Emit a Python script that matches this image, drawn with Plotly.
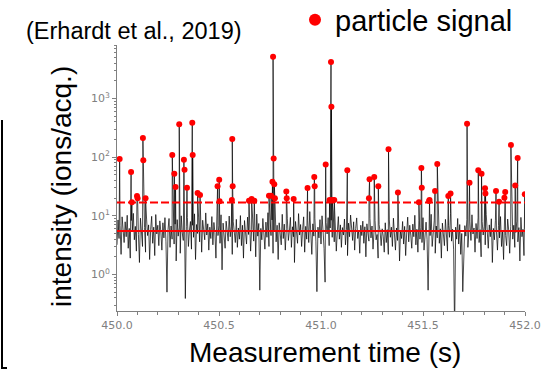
import numpy as np
import plotly.graph_objects as go

# ---------------- data ----------------
T0 = 450.0          # first sample time (s)
DT = 0.005          # sample spacing (s)

# background (non-particle) signal, ions/acq., one value per DT
background = [
    3.2, 8.5, 4.1, 6.8, 2.2, 9.6, 5.0, 3.5, 7.9, 4.4,
    10.2, 2.8, 6.1, 1.9, 8.3, 5.4, 11.0, 3.9, 6.6, 2.5,
    7.4, 4.8, 1.6, 9.1, 5.7, 3.0, 12.0, 6.3, 2.4, 8.8,
    4.6, 7.0, 1.8, 5.9, 9.8, 3.4, 6.4, 2.1, 10.5, 4.9,
    6.9, 3.1, 8.2, 5.3, 2.6, 7.6, 4.2, 9.3, 3.6, 0.5,
    5.8, 9.0, 2.9, 6.7, 4.0, 11.5, 3.3, 7.2, 1.7, 8.6,
    4.5, 6.2, 2.3, 10.0, 5.1, 3.8, 7.8, 0.39, 6.5, 9.4,
    3.0, 5.6, 8.0, 2.7, 6.9, 4.3, 10.8, 1.8, 7.1, 5.0,
    9.2, 3.6, 6.0, 2.4, 8.4, 5.5, 3.9, 11.2, 4.7, 7.3,
    2.6, 6.4, 4.1, 9.7, 3.2, 7.7, 5.2, 1.9, 8.9, 4.6,
    6.8, 3.4, 10.4, 1.2, 7.5, 4.9, 2.8, 8.1, 5.6, 3.7,
    9.9, 4.4, 6.6, 2.2, 7.9, 5.1, 3.5, 8.7, 2.9, 6.2,
    4.0, 10.1, 3.1, 6.9, 1.9, 8.3, 5.4, 3.3, 9.5, 4.8,
    7.0, 2.5, 5.9, 8.8, 3.7, 6.3, 2.0, 10.7, 4.5, 7.4,
    0.54, 6.1, 3.9, 9.0, 5.2, 2.7, 7.8, 4.3, 11.3, 3.0,
    6.7, 4.6, 8.5, 2.3, 5.7, 9.8, 3.6, 6.9, 1.8, 7.6,
    5.0, 3.2, 10.6, 4.1, 7.2, 2.6, 6.0, 8.9, 3.8, 5.5,
    9.4, 2.9, 6.5, 4.4, 1.6, 8.0, 5.3, 3.4, 10.9, 4.7,
    7.1, 3.0, 5.8, 9.6, 2.4, 6.6, 4.0, 8.2, 3.5, 11.8,
    5.1, 2.2, 7.3, 4.5, 9.1, 3.7, 0.51, 6.4, 4.2, 8.6,
    3.3, 10.0, 5.6, 2.8, 0.74, 7.7, 4.9, 9.3, 3.1, 6.2,
    8.4, 4.3, 11.6, 3.6, 6.8, 2.5, 5.4, 9.7, 4.0, 7.0,
    2.9, 6.3, 4.7, 8.8, 3.2, 5.9, 2.1, 7.5, 4.4, 10.3,
    5.3, 3.8, 7.9, 2.6, 6.1, 9.2, 4.1, 5.7, 2.3, 6.9,
    4.6, 8.1, 3.4, 6.5, 2.0, 7.3, 5.0, 3.7, 9.0, 4.2,
    6.7, 2.7, 5.5, 8.3, 3.9, 4.8, 1.9, 7.1, 5.2, 3.1,
    6.0, 4.5, 2.4, 7.6, 3.5, 5.8, 2.2, 8.5, 4.3, 6.4,
    3.0, 9.1, 4.9, 2.6, 6.2, 3.8, 7.4, 1.7, 5.6, 4.1,
    8.0, 3.3, 6.6, 2.1, 5.1, 9.5, 3.6, 6.9, 4.7, 2.8,
    7.2, 4.4, 10.2, 3.2, 5.9, 2.4, 8.4, 4.0, 6.3, 3.5,
    9.3, 2.6, 5.7, 7.8, 3.9, 0.54, 6.1, 4.6, 10.6, 3.0,
    5.4, 8.2, 2.3, 6.7, 4.2, 9.9, 3.4, 6.0, 1.9, 7.5,
    4.8, 3.1, 8.7, 5.5, 2.5, 6.9, 4.3, 11.0, 3.7, 5.9,
    2.7, 0.1, 6.4, 4.0, 9.0, 3.3, 7.1, 2.2, 5.0, 0.51,
    3.6, 6.8, 4.5, 8.6, 2.9, 5.6, 7.9, 3.8, 10.4, 4.9,
    6.2, 2.4, 7.4, 4.1, 9.2, 3.5, 5.8, 2.0, 8.0, 4.7,
    6.6, 3.2, 10.5, 5.1, 2.8, 7.0, 4.4, 8.9, 1.6, 6.1,
    3.9, 8.4, 5.3, 2.6, 6.8, 4.2, 9.7, 3.0, 5.5, 1.8,
    7.6, 4.6, 3.1, 8.8, 5.7, 2.3, 6.5, 11.2, 4.0, 6.9,
    2.9, 5.2, 8.1, 3.6, 6.3, 1.7, 9.4, 4.4, 5.9, 2.1,
    6.0,
]

# particle events above threshold (time in s, intensity in ions/acq.)
spike_times = [
    450.013, 450.069, 450.073, 450.098, 450.101, 450.127, 450.129, 450.140,
    450.271, 450.281, 450.287, 450.305, 450.328, 450.331, 450.343, 450.369,
    450.371, 450.395, 450.407, 450.493, 450.501, 450.503, 450.563, 450.565,
    450.567, 450.647, 450.660, 450.673, 450.745, 450.755, 450.762, 450.765,
    450.768, 450.771, 450.774, 450.830, 450.832, 450.866, 450.934, 450.967,
    450.969, 451.023, 451.042, 451.049, 451.051, 451.055, 451.065, 451.129,
    451.235, 451.238, 451.261, 451.281, 451.331, 451.377, 451.480, 451.492,
    451.494, 451.530, 451.532, 451.559, 451.570, 451.624, 451.635, 451.716,
    451.728, 451.771, 451.787, 451.804, 451.806, 451.858, 451.873, 451.899,
    451.903, 451.931, 451.952, 451.964, 451.999,
]
spike_values = [
    93, 56, 17, 21.7, 20, 211, 88, 20,
    109, 52, 31, 362, 90, 61, 30, 385,
    109, 24.4, 22.6, 32, 41, 17.7, 18.6, 203,
    32, 18, 19.4, 18, 22, 22, 38, 5140,
    95, 34.4, 20, 26, 20, 19.4, 29.8, 46,
    32, 75, 18.6, 4170, 722, 18.6, 18.6, 60,
    20, 42, 46, 32, 136, 25, 17, 65,
    30, 17.8, 18.6, 26.5, 76, 21.7, 24, 371,
    36.6, 60, 52, 29.5, 24, 26.5, 17.4, 20.4,
    25.5, 161, 32.7, 96.6, 23.2,
]

baseline_level = 5.5      # solid red line
threshold_level = 16.9    # dashed red line

x_range = [450.0, 452.0]
x_tickvals = [450.0, 450.5, 451.0, 451.5, 452.0]
x_ticktext = ["450.0", "450.5", "451.0", "451.5", "452.0"]
y_tickvals = [1, 10, 100, 1000]
y_ticktext = ["10<sup>0</sup>", "10<sup>1</sup>", "10<sup>2</sup>", "10<sup>3</sup>"]

# ---------------- build ----------------
bg_t = T0 + DT * np.arange(len(background))
t_all = np.concatenate([bg_t, np.array(spike_times)])
v_all = np.concatenate([np.array(background, float), np.array(spike_values, float)])
order = np.argsort(t_all, kind="stable")
t_all, v_all = t_all[order], v_all[order]

y_minor = [k * 10.0 ** d for d in range(-1, 4) for k in range(2, 10)]

W, H = 546, 370
L, R, T, B = 117, 21, 45, 59
pw, ph = W - L - R, H - T - B


def px(x):
    return (x - L) / pw


def py(y):
    return (H - B - y) / ph


RED = "#ff0000"
GREY = "#808080"

fig = go.Figure()
fig.add_trace(go.Scatter(x=t_all, y=v_all, mode="lines",
                         line=dict(color="black", width=0.7),
                         showlegend=False, hoverinfo="skip"))
fig.add_trace(go.Scatter(x=x_range, y=[baseline_level] * 2, mode="lines",
                         line=dict(color=RED, width=2), showlegend=False))
fig.add_trace(go.Scatter(x=x_range, y=[threshold_level] * 2, mode="lines",
                         line=dict(color=RED, width=2, dash="8px,3px"),
                         showlegend=False))
fig.add_trace(go.Scatter(x=spike_times, y=spike_values, mode="markers",
                         marker=dict(color=RED, size=6), showlegend=False))
fig.add_trace(go.Scatter(x=[None], y=[None], mode="markers", name="particle signal",
                         marker=dict(color=RED, size=12), showlegend=True))

fig.update_layout(
    width=W, height=H, autosize=False,
    margin=dict(l=L, r=R, t=T, b=B, pad=0, autoexpand=False),
    paper_bgcolor="white", plot_bgcolor="white",
    font=dict(family="Liberation Sans, Arial, sans-serif", color="black"),
    showlegend=True,
    legend=dict(x=px(295), y=py(20), xanchor="left", yanchor="middle",
                font=dict(size=29, family="Liberation Sans, Arial, sans-serif"),
                bgcolor="rgba(0,0,0,0)", borderwidth=0),
    xaxis=dict(range=x_range, showgrid=False, zeroline=False,
               showline=True, linecolor=GREY, linewidth=1,
               ticks="outside", ticklen=4, tickcolor=GREY, tickwidth=1,
               tickmode="array", tickvals=x_tickvals, ticktext=x_ticktext,
               tickfont=dict(family="DejaVu Sans", size=11, color=GREY),
               minor=dict(ticks="outside", ticklen=2.5, tickcolor=GREY, dtick=0.1,
                          showgrid=False)),
    yaxis=dict(type="log", range=[-0.622, 3.91], showgrid=False, zeroline=False,
               showline=True, linecolor=GREY, linewidth=1,
               ticks="outside", ticklen=4, tickcolor=GREY, tickwidth=1,
               tickmode="array", tickvals=y_tickvals, ticktext=y_ticktext,
               tickfont=dict(family="DejaVu Sans", size=11, color=GREY),
               minor=dict(ticks="outside", ticklen=2.5, tickcolor=GREY,
                          tickmode="array", tickvals=y_minor, showgrid=False)),
    annotations=[
        dict(text="(Erhardt et al., 2019)", xref="paper", yref="paper",
             x=px(133.5), y=py(31), xanchor="center", yanchor="middle",
             showarrow=False, font=dict(size=23.5)),
        dict(text="intensity (ions/acq.)", xref="paper", yref="paper",
             x=px(61), y=py(186), xanchor="center", yanchor="middle",
             textangle=-90, showarrow=False, font=dict(size=28)),
        dict(text="Measurement time (s)", xref="paper", yref="paper",
             x=px(325), y=py(352), xanchor="center", yanchor="middle",
             showarrow=False, font=dict(size=28)),
    ],
    shapes=[
        dict(type="line", xref="paper", yref="paper",
             x0=px(2), x1=px(2), y0=py(120), y1=py(368),
             line=dict(color="black", width=2)),
        dict(type="line", xref="paper", yref="paper",
             x0=px(1), x1=px(7), y0=py(368), y1=py(368),
             line=dict(color="black", width=2)),
    ],
)

fig.write_html(
    "out.html",
    config={"displayModeBar": False},
    post_script="document.body.style.margin='0';document.body.style.overflow='hidden';",
)
